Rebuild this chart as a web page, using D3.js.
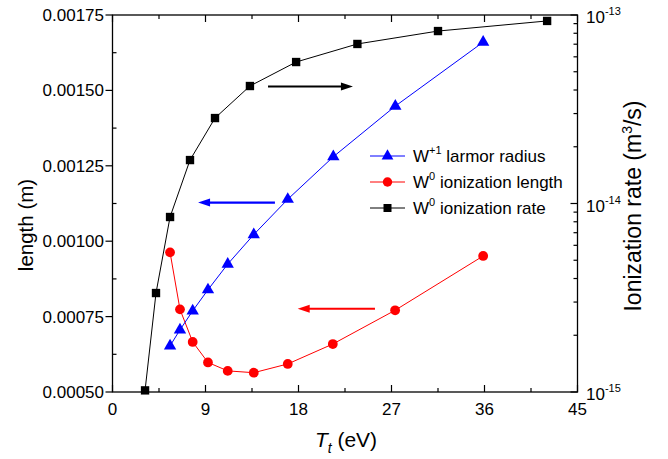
<!DOCTYPE html>
<html><head><meta charset="utf-8">
<script src="https://cdn.jsdelivr.net/npm/d3@7"></script>
<style>body{margin:0;background:#fff}svg{display:block}text{font-family:"Liberation Sans",Arial,sans-serif;fill:#000}</style>
</head><body>
<svg id="c" width="668" height="459"></svg>
<script>
// ---- data ----
const larmorT = [5.57, 6.53, 7.76, 9.24, 11.15, 13.67, 16.96, 21.37, 27.37, 35.87];
const larmorRadius = [0.000653, 0.000706, 0.000769, 0.000839, 0.000924, 0.001022, 0.001139, 0.00128, 0.001448, 0.00166];
const ionLenT = [5.57, 6.53, 7.76, 9.24, 11.15, 13.67, 16.96, 21.32, 27.35, 35.87];
const ionLength = [0.000963, 0.000774, 0.000666, 0.000598, 0.00057, 0.000564, 0.000593, 0.000659, 0.000771, 0.000951];
const rateT = [3.15, 4.21, 5.57, 7.5, 9.92, 13.3, 17.77, 23.7, 31.5, 42.06];
const ionRate = [1.02e-15, 3.35e-15, 8.48e-15, 1.70e-14, 2.84e-14, 4.2e-14, 5.63e-14, 7.02e-14, 8.22e-14, 9.3e-14];
const xTicks = [0, 9, 18, 27, 36, 45];
const yTicks = [0.0005, 0.00075, 0.001, 0.00125, 0.0015, 0.00175];
const yTickLabels = ["0.00050", "0.00075", "0.00100", "0.00125", "0.00150", "0.00175"];
const rTicks = [1e-15, 1e-14, 1e-13];
const rTickExp = ["-15", "-14", "-13"];
const legendLabels = [["W", "+1", " larmor radius"], ["W", "0", " ionization length"], ["W", "0", " ionization rate"]];
// arrows: [x0, x1, y] in data units (left axis)
const arrows = [
  {x0: 15.05, x1: 23.27, y: 0.001513, color: "#000"},
  {x0: 15.72, x1: 8.28, y: 0.001128, color: "#0000ff"},
  {x0: 25.40, x1: 17.92, y: 0.000776, color: "#ff0000"}
];

// ---- layout ----
const L = 112.5, R = 577.5, T = 15, B = 392;
const svg = d3.select("#c");
const x = d3.scaleLinear().domain([0, 45]).range([L, R]);
const y = d3.scaleLinear().domain([0.0005, 0.00175]).range([B, T]);
const yr = d3.scaleLog().domain([1e-15, 1e-13]).range([B, T]);

const g = svg.append("g");
// frame
g.append("rect").attr("x", L).attr("y", T).attr("width", R - L).attr("height", B - T)
  .attr("fill", "none").attr("stroke", "#000").attr("stroke-width", 1.3);

// x ticks (bottom & top, inward)
const xMinor = d3.range(0, 45.01, 4.5);
xMinor.forEach(v => {
  const major = xTicks.includes(v);
  const len = major ? 7 : 4;
  g.append("line").attr("x1", x(v)).attr("x2", x(v)).attr("y1", B).attr("y2", B - len).attr("stroke", "#000").attr("stroke-width", 1.2);
  g.append("line").attr("x1", x(v)).attr("x2", x(v)).attr("y1", T).attr("y2", T + len).attr("stroke", "#000").attr("stroke-width", 1.2);
});
xTicks.forEach(v => {
  g.append("text").attr("x", x(v)).attr("y", 415).attr("text-anchor", "middle").attr("font-size", 17).text(v);
});

// left y ticks
const yMinor = d3.range(0.000625, 0.00175, 0.00025);
yTicks.forEach((v, i) => {
  g.append("line").attr("x1", L - 7).attr("x2", L).attr("y1", y(v)).attr("y2", y(v)).attr("stroke", "#000").attr("stroke-width", 1.2);
  g.append("text").attr("x", 104).attr("y", y(v) + 6).attr("text-anchor", "end").attr("font-size", 17).text(yTickLabels[i]);
});
yMinor.forEach(v => {
  g.append("line").attr("x1", L).attr("x2", L + 4).attr("y1", y(v)).attr("y2", y(v)).attr("stroke", "#000").attr("stroke-width", 1.2);
});

// right log ticks (inward)
[1e-15, 1e-14].forEach(dec => {
  for (let k = 2; k <= 9; k++) {
    const v = dec * k;
    g.append("line").attr("x1", R).attr("x2", R - 4).attr("y1", yr(v)).attr("y2", yr(v)).attr("stroke", "#000").attr("stroke-width", 1.2);
  }
});
rTicks.forEach((v, i) => {
  g.append("line").attr("x1", R).attr("x2", R - 7).attr("y1", yr(v)).attr("y2", yr(v)).attr("stroke", "#000").attr("stroke-width", 1.2);
  const t = g.append("text").attr("x", 586).attr("y", yr(v) + 8).attr("font-size", 17);
  t.append("tspan").text("10");
  t.append("tspan").attr("font-size", 11).attr("dy", -8).text(rTickExp[i]);
});

// axis titles
g.append("text").attr("transform", "translate(33,225) rotate(-90)").attr("text-anchor", "middle").attr("font-size", 20.5).text("length (m)");
const rt = g.append("text").attr("transform", "translate(641,206) rotate(-90)").attr("text-anchor", "middle").attr("font-size", 23);
rt.append("tspan").text("Ionization rate (m");
rt.append("tspan").attr("font-size", 14).attr("dy", -9).text("3");
rt.append("tspan").attr("dy", 9).text("/s)");
const xt = g.append("text").attr("x", 346).attr("y", 447).attr("text-anchor", "middle").attr("font-size", 21);
xt.append("tspan").attr("font-style", "italic").text("T");
xt.append("tspan").attr("font-style", "italic").attr("font-size", 14).attr("dy", 6).text("t");
xt.append("tspan").attr("dy", -6).text(" (eV)");

// series
const line = d3.line();
function drawSeries(xs, ys, ys_scale, color, shape) {
  const pts = xs.map((v, i) => [x(v), ys_scale(ys[i])]);
  g.append("path").attr("d", line(pts)).attr("fill", "none").attr("stroke", color).attr("stroke-width", 1);
  const sym = d3.symbol().type(shape).size(shape === d3.symbolSquare ? 70 : shape === d3.symbolCircle ? 75 : 66);
  g.selectAll(null).data(pts).enter().append("path")
    .attr("d", sym).attr("transform", d => `translate(${d[0]},${d[1]})`).attr("fill", color);
}
drawSeries(rateT, ionRate, yr, "#000", d3.symbolSquare);
drawSeries(ionLenT, ionLength, y, "#ff0000", d3.symbolCircle);
drawSeries(larmorT, larmorRadius, y, "#0000ff", d3.symbolTriangle);

// arrows
arrows.forEach(a => {
  const x0 = x(a.x0), x1 = x(a.x1), yy = y(a.y);
  const dir = Math.sign(x1 - x0);
  g.append("line").attr("x1", x0).attr("x2", x1 - dir * 9).attr("y1", yy).attr("y2", yy).attr("stroke", a.color).attr("stroke-width", 2.2);
  g.append("path").attr("d", `M${x1},${yy} L${x1 - dir * 12},${yy - 4} L${x1 - dir * 12},${yy + 4} Z`).attr("fill", a.color);
});

// legend
const legColors = ["#0000ff", "#ff0000", "#000"];
const legShapes = [d3.symbolTriangle, d3.symbolCircle, d3.symbolSquare];
const legY = [156, 182, 208];
legendLabels.forEach((lab, i) => {
  const yy = legY[i];
  g.append("line").attr("x1", 370).attr("x2", 405).attr("y1", yy).attr("y2", yy).attr("stroke", legColors[i]).attr("stroke-width", 1);
  const sz = legShapes[i] === d3.symbolSquare ? 64 : legShapes[i] === d3.symbolCircle ? 70 : 60;
  g.append("path").attr("d", d3.symbol().type(legShapes[i]).size(sz)).attr("transform", `translate(387.5,${yy})`).attr("fill", legColors[i]);
  const t = g.append("text").attr("x", 413).attr("y", yy + 6).attr("font-size", 17);
  t.append("tspan").text(lab[0]);
  t.append("tspan").attr("font-size", 11).attr("dy", -8).text(lab[1]);
  t.append("tspan").attr("dy", 8).text(lab[2]);
});
</script>
</body></html>
